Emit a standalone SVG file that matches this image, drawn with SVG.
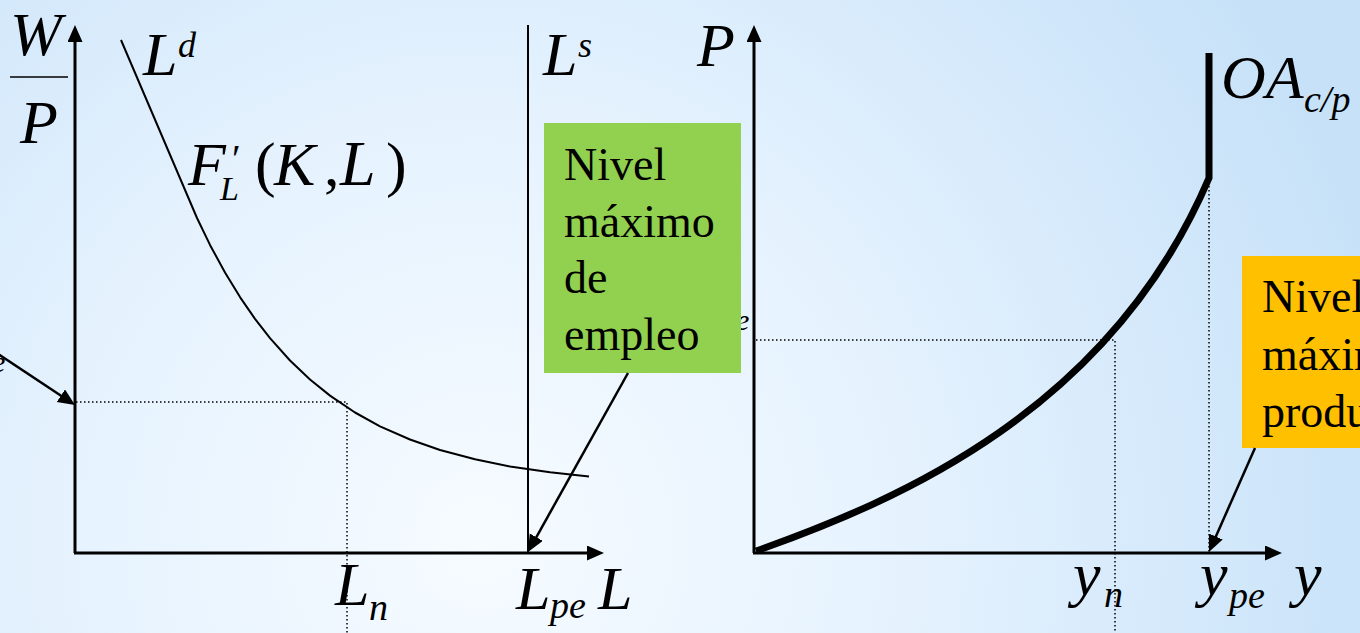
<svg xmlns="http://www.w3.org/2000/svg" width="1360" height="633" viewBox="0 0 1360 633">
<style>
.ax{stroke:#000;stroke-width:3;fill:none}
.thin{stroke:#000;stroke-width:2;fill:none;stroke-linejoin:round}
.dot{stroke:#000;stroke-width:1.5;stroke-dasharray:1.5 2.5;fill:none}
.con{stroke:#000;stroke-width:2.5;fill:none}
.m{font-family:"Liberation Serif","Times New Roman",serif;font-style:italic;fill:#000}
.u{font-family:"Liberation Serif","Times New Roman",serif;fill:#000}
.box{font-family:"Liberation Serif","Times New Roman",serif;font-size:46px;fill:#000}
</style>
<defs>
<radialGradient id="bg" gradientUnits="userSpaceOnUse" cx="480" cy="540" r="950">
<stop offset="0" stop-color="#f6fbff"/>
<stop offset="0.45" stop-color="#e5f2fe"/>
<stop offset="1" stop-color="#c6e1f8"/>
</radialGradient>
<marker id="ah" markerUnits="userSpaceOnUse" markerWidth="18" markerHeight="16" refX="7" refY="7.5" orient="auto">
<path d="M0,0 L17,7.5 L0,15 z" fill="#000"/>
</marker>
</defs>
<rect width="1360" height="633" fill="url(#bg)"/>

<g id="left-axes">
<line class="ax" x1="75" y1="553" x2="75" y2="35" marker-end="url(#ah)"/>
<line class="ax" x1="74" y1="553" x2="594" y2="553" marker-end="url(#ah)"/>
</g>

<g id="left-labels">
<text class="m" x="10" y="55" font-size="62">W</text>
<line x1="10" y1="77" x2="68" y2="77" stroke="#000" stroke-width="1.5"/>
<text class="m" x="20" y="143" font-size="62">P</text>
<text class="m" x="-8" y="372" font-size="30">e</text>
</g>

<g id="labor-demand">
<polyline class="thin" points="121,40 197,218 210,244.9 225,272.6 240,297.1 255,318.9 270,338.1 290,360.5 310,379.5 330,395.6 355,412.5 380,426.3 410,439.5 440,450 475,459.3 510,466.4 550,472.3 589,476.5"/>
<text class="m" x="143" y="75" font-size="62">L</text>
<text class="m" x="178" y="57" font-size="36">d</text>
<text class="m" x="188" y="185" font-size="62">F</text>
<text class="u" x="232" y="172" font-size="40">′</text>
<text class="m" x="220" y="200" font-size="34">L</text>
<text class="u" x="255" y="185" font-size="62">(</text>
<text class="m" x="274" y="185" font-size="62">K</text>
<text class="u" x="324" y="185" font-size="62">,</text>
<text class="m" x="340" y="185" font-size="64">L</text>
<text class="u" x="386" y="185" font-size="62">)</text>
</g>

<g id="labor-supply">
<line class="thin" x1="528" y1="25" x2="528" y2="553"/>
<text class="m" x="543" y="75" font-size="62">L</text>
<text class="m" x="578" y="57" font-size="36">s</text>
</g>

<g id="left-guides">
<polyline class="dot" points="76,402 347,402 347,633"/>
</g>

<g id="left-ticks">
<text class="m" x="335" y="605" font-size="62">L</text>
<text class="m" x="369" y="620" font-size="38">n</text>
<text class="m" x="516" y="609" font-size="62">L</text>
<text class="m" x="550" y="618" font-size="38">pe</text>
<text class="m" x="598" y="609" font-size="62">L</text>
</g>

<g id="right-axes">
<line class="ax" x1="754" y1="553" x2="754" y2="35" marker-end="url(#ah)"/>
<line class="ax" x1="753" y1="553" x2="1272" y2="553" marker-end="url(#ah)"/>
<text class="m" x="697" y="66" font-size="62">P</text>
<text class="m" x="736" y="330" font-size="30">e</text>
</g>

<g id="aggregate-supply">
<path d="M756,551 C900,500 1110,410 1209,178 L1209,53" stroke="#000" stroke-width="7" fill="none" stroke-linejoin="miter"/>
<text class="m" x="1221" y="98" font-size="62">OA</text>
<text class="m" x="1304" y="112" font-size="38">c/p</text>
</g>

<g id="right-guides">
<polyline class="dot" points="756,340 1115,340 1115,633"/>
<line class="dot" x1="1209" y1="182" x2="1209" y2="552"/>
</g>

<g id="right-ticks">
<text class="m" x="1073" y="595" font-size="62">y</text>
<text class="m" x="1104" y="607" font-size="38">n</text>
<text class="m" x="1200" y="595" font-size="62">y</text>
<text class="m" x="1229" y="608" font-size="38">pe</text>
<text class="m" x="1294" y="595" font-size="62">y</text>
</g>

<g id="box-empleo">
<rect x="544" y="123" width="197" height="250" fill="#92d050"/>
<text class="box" x="564" y="180">Nivel</text>
<text class="box" x="564" y="237">máximo</text>
<text class="box" x="564" y="293">de</text>
<text class="box" x="564" y="350">empleo</text>
</g>

<g id="box-produccion">
<rect x="1242" y="256" width="130" height="192" fill="#ffc000"/>
<text class="box" x="1262" y="312">Nivel</text>
<text class="box" x="1262" y="370">máximo</text>
<text class="box" x="1262" y="427">producción</text>
</g>

<g id="connectors">
<line class="con" x1="-2" y1="354" x2="66.7" y2="399.5" marker-end="url(#ah)"/>
<line class="con" x1="628" y1="373" x2="532.9" y2="543.3" marker-end="url(#ah)"/>
<line class="con" x1="1255" y1="448" x2="1213" y2="542.9" marker-end="url(#ah)"/>
</g>
</svg>
